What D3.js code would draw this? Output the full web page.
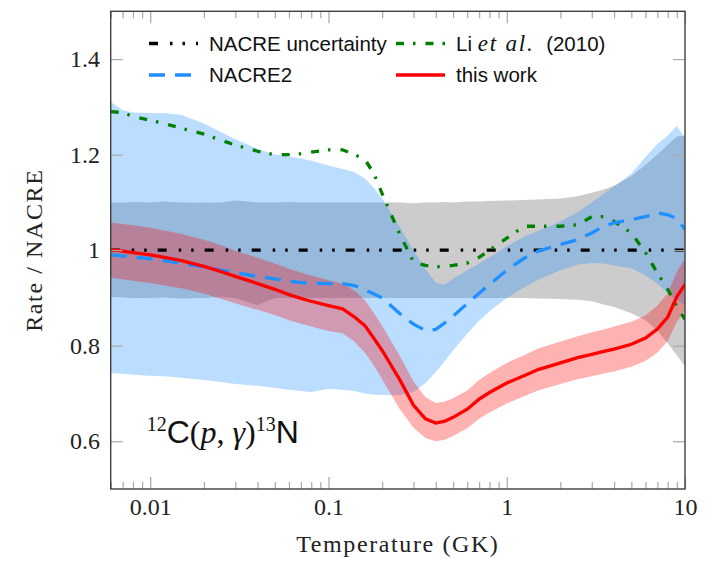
<!DOCTYPE html>
<html>
<head>
<meta charset="utf-8">
<script src="https://cdn.jsdelivr.net/npm/d3@7"></script>
<style>
  body { margin: 0; background: #fff; }
</style>
</head>
<body>
<script>
// temperatures (GK) shared by every series
var temps = [0.006, 0.007, 0.008, 0.01, 0.012, 0.015, 0.02, 0.025, 0.03, 0.04, 0.05, 0.06, 0.07, 0.08,
  0.1, 0.12, 0.14, 0.16, 0.18, 0.2, 0.25, 0.3, 0.35, 0.4, 0.45, 0.5, 0.6, 0.7, 0.8,
  1, 1.25, 1.5, 2, 2.5, 3, 3.5, 4, 5, 6, 7, 8, 9, 10]

// NACRE uncertainty band (grey)
var nacreLow  = [0.902, 0.901, 0.9, 0.9, 0.901, 0.899, 0.9, 0.902, 0.9, 0.885, 0.9, 0.9, 0.901, 0.9,
  0.9, 0.9, 0.9, 0.9, 0.9, 0.9, 0.9, 0.9, 0.9, 0.9, 0.9, 0.9, 0.9, 0.9, 0.9,
  0.9, 0.9, 0.899, 0.898, 0.896, 0.893, 0.886, 0.881, 0.868, 0.853, 0.832, 0.805, 0.78, 0.757]
var nacreHigh = [1.1, 1.099, 1.101, 1.1, 1.102, 1.1, 1.099, 1.1, 1.104, 1.1, 1.1, 1.101, 1.1, 1.1,
  1.1, 1.1, 1.1, 1.1, 1.1, 1.1, 1.1, 1.098, 1.1, 1.1, 1.101, 1.1, 1.102, 1.102, 1.103,
  1.104, 1.105, 1.106, 1.108, 1.113, 1.12, 1.127, 1.135, 1.155, 1.178, 1.2, 1.22, 1.238, 1.24]
var nacreRatio = temps.map(function(){ return 1 })

// NACRE2 (blue)
var nacre2 = [0.99, 0.988, 0.986, 0.982, 0.978, 0.972, 0.965, 0.958, 0.953, 0.945, 0.94, 0.935, 0.932, 0.931,
  0.93, 0.93, 0.926, 0.917, 0.908, 0.9, 0.868, 0.845, 0.832, 0.834, 0.848, 0.862, 0.888, 0.91, 0.928,
  0.958, 0.983, 0.998, 1.012, 1.022, 1.036, 1.05, 1.057, 1.064, 1.07, 1.078, 1.074, 1.066, 1.043]
var nacre2Low = [0.743, 0.741, 0.739, 0.737, 0.736, 0.733, 0.728, 0.724, 0.72, 0.716, 0.712, 0.708, 0.705, 0.703,
  0.71, 0.708, 0.705, 0.7, 0.698, 0.697, 0.696, 0.703, 0.722, 0.745, 0.768, 0.79, 0.825, 0.852, 0.872,
  0.9, 0.922, 0.938, 0.958, 0.97, 0.973, 0.972, 0.968, 0.962, 0.947, 0.93, 0.91, 0.895, 0.885]
var nacre2High = [1.31, 1.293, 1.288, 1.287, 1.287, 1.283, 1.265, 1.247, 1.232, 1.212, 1.2, 1.196, 1.192, 1.187,
  1.177, 1.17, 1.163, 1.15, 1.13, 1.108, 1.05, 1.0, 0.96, 0.932, 0.928, 0.94, 0.958, 0.972, 0.985,
  1.008, 1.028, 1.04, 1.06, 1.08, 1.1, 1.118, 1.133, 1.16, 1.195, 1.222, 1.24, 1.26, 1.235]

// Li et al. (2010) (green)
var li2010 = [1.29, 1.288, 1.28, 1.272, 1.265, 1.255, 1.243, 1.23, 1.22, 1.207, 1.2, 1.2, 1.202, 1.205,
  1.21, 1.21, 1.2, 1.19, 1.16, 1.118, 1.035, 0.975, 0.968, 0.965, 0.966, 0.968, 0.973, 0.985, 1.0,
  1.025, 1.05, 1.05, 1.05, 1.053, 1.07, 1.07, 1.06, 1.036, 0.995, 0.952, 0.918, 0.882, 0.855]

// this work (red)
var thisWork = [1.001, 0.998, 0.995, 0.99, 0.985, 0.978, 0.966, 0.955, 0.945, 0.93, 0.918, 0.907, 0.899, 0.893,
  0.884, 0.877, 0.86, 0.842, 0.815, 0.79, 0.73, 0.675, 0.647, 0.638, 0.642, 0.65, 0.667, 0.688, 0.702,
  0.722, 0.737, 0.75, 0.764, 0.775, 0.782, 0.788, 0.793, 0.803, 0.816, 0.835, 0.86, 0.903, 0.928]
var thisWorkLow = [0.942, 0.939, 0.936, 0.931, 0.926, 0.92, 0.909, 0.898, 0.889, 0.875, 0.864, 0.853, 0.846, 0.84,
  0.831, 0.826, 0.808, 0.785, 0.758, 0.73, 0.668, 0.628, 0.607, 0.6, 0.603, 0.611, 0.627, 0.647, 0.66,
  0.679, 0.694, 0.706, 0.72, 0.73, 0.736, 0.742, 0.746, 0.756, 0.768, 0.786, 0.81, 0.85, 0.874]
var thisWorkHigh = [1.058, 1.055, 1.052, 1.047, 1.041, 1.034, 1.022, 1.01, 0.999, 0.984, 0.972, 0.961, 0.953, 0.947,
  0.937, 0.93, 0.915, 0.895, 0.868, 0.842, 0.78, 0.725, 0.692, 0.68, 0.683, 0.69, 0.706, 0.728, 0.743,
  0.764, 0.78, 0.794, 0.809, 0.82, 0.828, 0.834, 0.84, 0.85, 0.863, 0.884, 0.91, 0.955, 0.982]

var xTicks = [0.01, 0.1, 1, 10]
var xTickLabels = ['0.01', '0.1', '1', '10']
var yTicks = [0.6, 0.8, 1, 1.2, 1.4]
var legendLabels = ['NACRE uncertainty', 'Li et al. (2010)', 'NACRE2', 'this work']

var serif = "'Liberation Serif', 'Times New Roman', serif"
var sans = "'Liberation Sans', Arial, sans-serif"

var margin = {top: 11.3, right: 27, bottom: 74, left: 110.7}
var width = 712 - margin.left - margin.right
var height = 563 - margin.top - margin.bottom

var svg = d3.select('body').append('svg')
    .attr('width', 712)
    .attr('height', 563)
  .append('g')
    .attr('transform', 'translate(' + margin.left + ',' + margin.top + ')')

var x = d3.scaleLog().domain([0.006, 10]).range([0, width])
var y = d3.scaleLinear().domain([0.5, 1.5]).range([height, 0])

function rows(mid, lo, hi){
  return temps.map(function(t, i){ return {t: t, v: mid ? mid[i] : null, lo: lo ? lo[i] : null, hi: hi ? hi[i] : null} })
}

svg.append('clipPath').attr('id', 'plotclip')
  .append('rect').attr('width', width).attr('height', height)

var plot = svg.append('g').attr('clip-path', 'url(#plotclip)')

var area = d3.area()
    .x(function(d){ return x(d.t) })
    .y0(function(d){ return y(d.lo) })
    .y1(function(d){ return y(d.hi) })

var line = d3.line()
    .x(function(d){ return x(d.t) })
    .y(function(d){ return y(d.v) })

// bands
plot.append('path').datum(rows(null, nacreLow, nacreHigh))
    .attr('d', area).attr('fill', '#999').attr('fill-opacity', 0.5)
plot.append('path').datum(rows(null, nacre2Low, nacre2High))
    .attr('d', area).attr('fill', 'rgb(30,144,255)').attr('fill-opacity', 0.3)
plot.append('path').datum(rows(null, thisWorkLow, thisWorkHigh))
    .attr('d', area).attr('fill', 'rgb(255,0,0)').attr('fill-opacity', 0.3)

// lines
var styles = {
  nacre: {color: '#000', dash: '9,12,2.5,10,2.5,11'},
  li:    {color: 'rgb(0,128,0)', dash: '8,9,2.5,10'},
  nacre2:{color: 'rgb(30,144,255)', dash: '16,10'},
  mine:  {color: 'rgb(255,0,0)', dash: null}
}

function drawLine(vals, st){
  plot.append('path').datum(rows(vals))
      .attr('d', line)
      .attr('fill', 'none')
      .attr('stroke', st.color)
      .attr('stroke-width', 3.3)
      .attr('stroke-dasharray', st.dash)
}
drawLine(nacreRatio, styles.nacre)
drawLine(li2010, styles.li)
drawLine(nacre2, styles.nacre2)
drawLine(thisWork, styles.mine)

// axes, ticks inward on all four sides
function isMajor(d){ var l = Math.log10(d); return Math.abs(l - Math.round(l)) < 1e-6 }
var minorX = x.ticks().filter(function(d){ return !isMajor(d) })

function styleAxis(g){
  g.select('.domain').remove()
  g.selectAll('.tick line').attr('stroke', '#a8a8a8').attr('stroke-width', 1.2)
  g.attr('font-family', serif).attr('font-size', 24)
  g.selectAll('text').attr('fill', '#222')
}

svg.append('g').attr('transform', 'translate(0,' + height + ')')
    .call(d3.axisBottom(x).tickValues(minorX).tickSize(-7).tickFormat(''))
    .call(styleAxis)
svg.append('g').attr('transform', 'translate(0,' + height + ')')
    .call(d3.axisBottom(x).tickValues(xTicks).tickSize(-12).tickPadding(9)
      .tickFormat(function(d, i){ return xTickLabels[i] }))
    .call(styleAxis)
svg.append('g')
    .call(d3.axisTop(x).tickValues(minorX).tickSize(-7).tickFormat(''))
    .call(styleAxis)
svg.append('g')
    .call(d3.axisTop(x).tickValues(xTicks).tickSize(-12).tickFormat(''))
    .call(styleAxis)
svg.append('g')
    .call(d3.axisLeft(y).tickValues(yTicks).tickSize(-12).tickPadding(10.7).tickFormat(d3.format('~g')))
    .call(styleAxis)
svg.append('g').attr('transform', 'translate(' + width + ',0)')
    .call(d3.axisRight(y).tickValues(yTicks).tickSize(-12).tickFormat(''))
    .call(styleAxis)

svg.append('rect')
    .attr('width', width).attr('height', height)
    .attr('fill', 'none').attr('stroke', '#404040').attr('stroke-width', 1.4)

// axis titles
svg.append('text')
    .attr('x', width / 2).attr('y', 540.4)
    .attr('text-anchor', 'middle')
    .attr('font-family', serif).attr('font-size', 24)
    .attr('letter-spacing', 1.6)
    .attr('fill', '#222')
    .text('Temperature (GK)')

svg.append('text')
    .attr('transform', 'translate(' + (42 - margin.left) + ',' + (height / 2) + ') rotate(-90)')
    .attr('text-anchor', 'middle')
    .attr('font-family', serif).attr('font-size', 24)
    .attr('letter-spacing', 1.6)
    .attr('fill', '#222')
    .text('Rate / NACRE')

// legend, two columns
var legendStyles = [styles.nacre, styles.li, styles.nacre2, styles.mine]
var legend = svg.append('g')
legendLabels.forEach(function(lab, i){
  var col = i % 2, row = Math.floor(i / 2)
  var lx = 38.3 + col * 247, ly = 32.2 + row * 31.5
  var st = legendStyles[i]
  legend.append('line')
      .attr('x1', lx).attr('x2', lx + 49)
      .attr('y1', ly).attr('y2', ly)
      .attr('stroke', st.color).attr('stroke-width', 3.3)
      .attr('stroke-dasharray', st.dash)
  var t = legend.append('text')
      .attr('x', lx + 60).attr('y', ly + 7.3)
      .attr('font-family', sans).attr('font-size', 20.5)
      .attr('fill', '#111')
  var m = lab.match(/^(.*?)(et al\.)(.*)$/)
  if (m) {
    t.append('tspan').text(m[1])
    t.append('tspan').attr('font-family', serif).attr('font-style', 'italic')
        .attr('font-size', 23).attr('letter-spacing', 1.8).text(m[2])
    t.append('tspan').attr('dx', 6).text(m[3])
  } else {
    t.text(lab)
  }
})

// reaction label
var rx = svg.append('text')
    .attr('x', 146.7 - margin.left).attr('y', 443 - margin.top)
    .attr('fill', '#111').attr('font-size', 32)
rx.append('tspan').attr('font-family', serif).attr('font-size', 20).attr('dy', -12).text('12')
rx.append('tspan').attr('font-family', sans).attr('dy', 12).text('C')
rx.append('tspan').attr('font-family', serif).text('(')
rx.append('tspan').attr('font-family', serif).attr('font-style', 'italic').text('p')
rx.append('tspan').attr('font-family', serif).text(', ')
rx.append('tspan').attr('font-family', serif).attr('font-style', 'italic').text('γ')
rx.append('tspan').attr('font-family', serif).text(')')
rx.append('tspan').attr('font-family', serif).attr('font-size', 20).attr('dy', -12).text('13')
rx.append('tspan').attr('font-family', sans).attr('dy', 12).text('N')
</script>
</body>
</html>
